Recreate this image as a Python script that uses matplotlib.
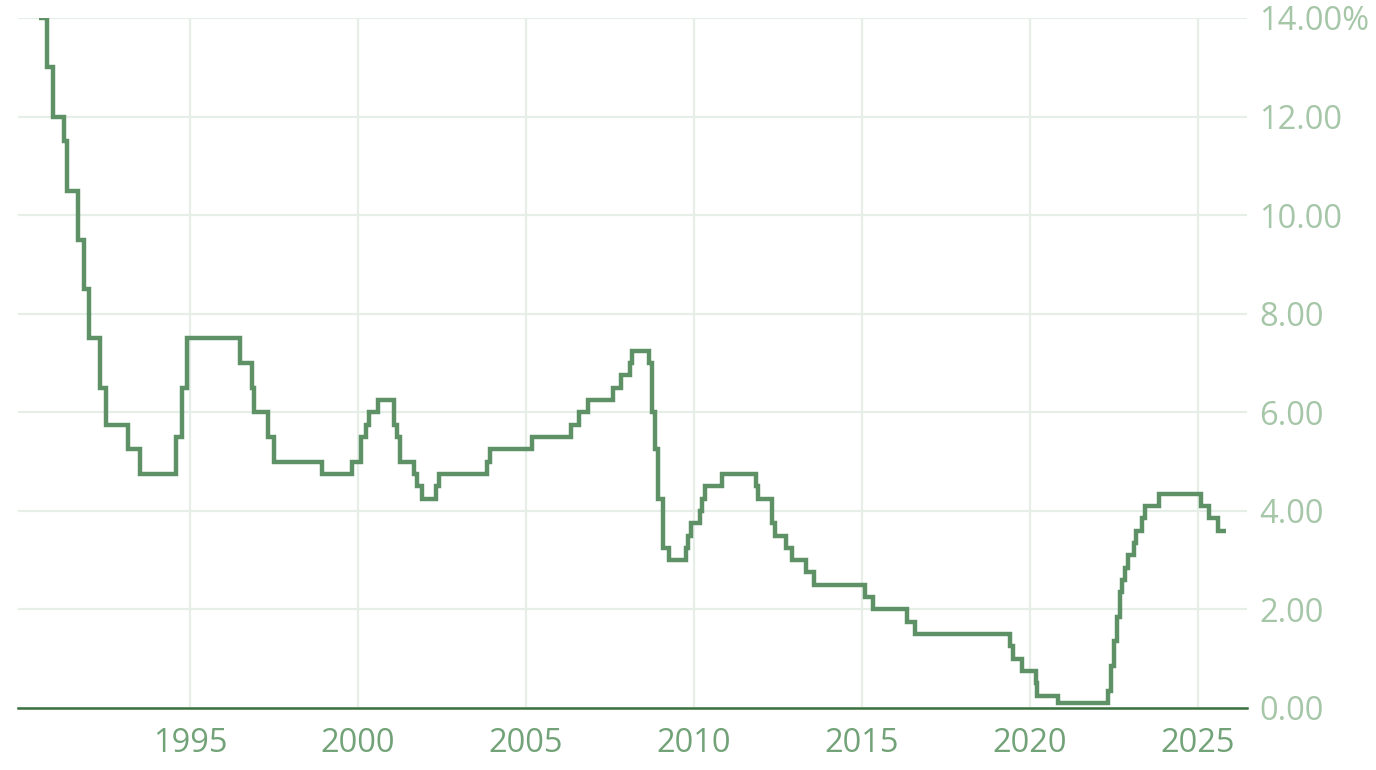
import matplotlib
matplotlib.use("Agg")
import matplotlib.pyplot as plt
import numpy as np

# Cash rate changes: (year, month) -> rate %
change_years = [1990, 1990, 1990, 1991, 1991, 1991, 1991, 1992, 1992, 1992, 1993, 1993,
                1994, 1994, 1994, 1996, 1996, 1996, 1997, 1997, 1998, 1999,
                2000, 2000, 2000, 2000, 2001, 2001, 2001, 2001, 2001, 2001, 2002, 2002,
                2003, 2003, 2005, 2006, 2006, 2006, 2007, 2007, 2008, 2008,
                2008, 2008, 2008, 2008, 2009, 2009, 2009, 2009, 2009, 2010, 2010, 2010, 2010,
                2011, 2011, 2012, 2012, 2012, 2012, 2013, 2013, 2015, 2015, 2016, 2016,
                2019, 2019, 2019, 2020, 2020, 2020, 2022, 2022, 2022, 2022, 2022, 2022, 2022, 2022,
                2023, 2023, 2023, 2023, 2023, 2025, 2025, 2025, 2025]
change_months = [7, 10, 12, 4, 5, 9, 11, 1, 5, 7, 3, 7,
                 8, 10, 12, 7, 11, 12, 5, 7, 12, 11,
                 2, 4, 5, 8, 2, 3, 4, 9, 10, 12, 5, 6,
                 11, 12, 3, 5, 8, 11, 8, 11, 2, 3,
                 9, 10, 11, 12, 2, 4, 10, 11, 12, 3, 4, 5, 11,
                 11, 12, 5, 6, 10, 12, 5, 8, 2, 5, 5, 8,
                 6, 7, 10, 3, 3, 11, 5, 6, 7, 8, 9, 10, 11, 12,
                 2, 3, 5, 6, 11, 2, 5, 8, 11]
rates = [14.0, 13.0, 12.0, 11.5, 10.5, 9.5, 8.5, 7.5, 6.5, 5.75, 5.25, 4.75,
         5.5, 6.5, 7.5, 7.0, 6.5, 6.0, 5.5, 5.0, 4.75, 5.0,
         5.5, 5.75, 6.0, 6.25, 5.75, 5.5, 5.0, 4.75, 4.5, 4.25, 4.5, 4.75,
         5.0, 5.25, 5.5, 5.75, 6.0, 6.25, 6.5, 6.75, 7.0, 7.25,
         7.0, 6.0, 5.25, 4.25, 3.25, 3.0, 3.25, 3.5, 3.75, 4.0, 4.25, 4.5, 4.75,
         4.5, 4.25, 3.75, 3.5, 3.25, 3.0, 2.75, 2.5, 2.25, 2.0, 1.75, 1.5,
         1.25, 1.0, 0.75, 0.5, 0.25, 0.1, 0.35, 0.85, 1.35, 1.85, 2.35, 2.6, 2.85, 3.1,
         3.35, 3.6, 3.85, 4.1, 4.35, 4.1, 3.85, 3.6, 3.6]

x_ticks = [1995, 2000, 2005, 2010, 2015, 2020, 2025]
y_ticks = [0, 2, 4, 6, 8, 10, 12, 14]

x = np.array(change_years) + (np.array(change_months) - 1) / 12.0
# slight offsets for same-month moves
for i in range(1, len(x)):
    if x[i] <= x[i - 1]:
        x[i] = x[i - 1] + 0.03

line_c = "#5e9165"
grid_c = "#e5eee7"
ylab_c = "#a6c6a8"
xlab_c = "#72a277"
axis_c = "#3a7040"

fig = plt.figure(figsize=(13.76, 7.70), dpi=100)
ax = fig.add_axes([18 / 1376, 1 - 708 / 770, (1247 - 18) / 1376, (708 - 18) / 770])

ax.step(x, rates, where="post", color=line_c, lw=3.2, solid_joinstyle="miter",
        solid_capstyle="butt", zorder=3)

ax.set_xlim(1995 - 172 / 33.6, 2025 + 49 / 33.6)
ax.set_ylim(0, 14)
ax.set_xticks(x_ticks)
ax.set_yticks(y_ticks)
ax.set_xticklabels([str(v) for v in x_ticks])
ylabels = [f"{v:.2f}" for v in y_ticks]
ylabels[-1] = ylabels[-1] + "%"
ax.set_yticklabels(ylabels)

ax.yaxis.tick_right()
ax.grid(True, color=grid_c, lw=1.6, zorder=0)
for s in ["top", "left", "right"]:
    ax.spines[s].set_visible(False)
ax.spines["bottom"].set_color(axis_c)
ax.spines["bottom"].set_linewidth(1.8)
ax.tick_params(axis="both", length=0)
ax.tick_params(axis="y", pad=9, labelsize=23.5, labelcolor=ylab_c)
ax.tick_params(axis="x", pad=14, labelsize=23.5, labelcolor=xlab_c)
for lab in ax.get_xticklabels() + ax.get_yticklabels():
    lab.set_fontfamily("Open Sans")

fig.savefig("out.png", dpi=100)
